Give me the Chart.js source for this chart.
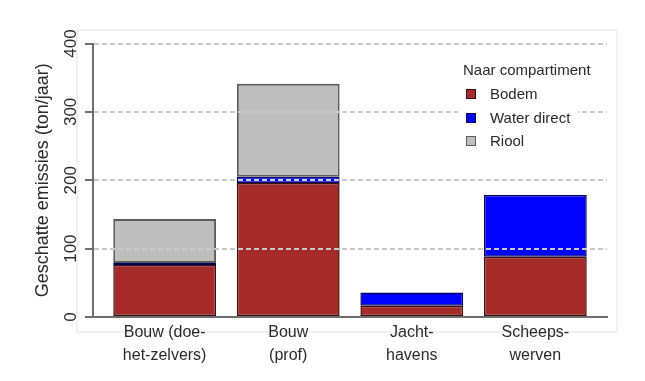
<!DOCTYPE html>
<html><head><meta charset="utf-8">
<script src="https://cdn.jsdelivr.net/npm/chart.js@4.4.1/dist/chart.umd.min.js"></script>
<style>html,body{margin:0;padding:0;background:#fff;} #wrap{width:645px;height:381px;}</style>
</head><body><div id="wrap"><canvas id="c" width="645" height="381"></canvas></div>
<script>
// ---- data ----
const categories = [['Bouw (doe-', 'het-zelvers)'], ['Bouw', '(prof)'], ['Jacht-', 'havens'], ['Scheeps-', 'werven']];
const seriesNames = ['Bodem', 'Water direct', 'Riool'];
const bodem = [76, 196, 16.5, 88];
const waterDirect = [3, 9, 19.5, 90.5];
const riool = [64.5, 136, 0, 0];
const yTicks = [0, 100, 200, 300, 400];
const legendTitle = 'Naar compartiment';
const yTitle = 'Geschatte emissies (ton/jaar)';

// ---- styles ----
const fills = ['#A52A2A', '#0000FF', '#BEBEBE'];
const outlines = ['#3a0e0e', '#00005a', '#5c5c5c'];
const axisColor = '#6e6e6e';
const textColor = '#2a2a2a';
const sans = "'Liberation Sans', Arial, sans-serif";

const series = [bodem, waterDirect, riool];
const datasets = series.map((vals, k) => ({
  label: seriesNames[k],
  data: vals.map((v, i) => ({ x: i, y: v })),
  backgroundColor: fills[k],
  borderColor: outlines[k],
  borderWidth: k === 2 ? 2 : 1.5,
  borderSkipped: false,
  categoryPercentage: 1,
  barPercentage: 0.832
}));

const framePlugin = {
  id: 'frame',
  beforeDraw(chart) {
    const { ctx, chartArea: a } = chart;
    ctx.save();
    ctx.strokeStyle = '#ececec';
    ctx.lineWidth = 1.5;
    ctx.strokeRect(a.left - 16, a.top - 13.5, (a.right + 10) - (a.left - 16), (a.bottom + 15) - (a.top - 13.5));
    ctx.restore();
  }
};

const legendPlugin = {
  id: 'innerLegend',
  afterDraw(chart) {
    const { ctx, chartArea: a } = chart;
    const x0 = a.right - 144;
    ctx.save();
    ctx.fillStyle = '#ffffff';
    ctx.fillRect(a.right - 149, a.top + 12, 120, 98);
    ctx.fillStyle = textColor;
    ctx.font = '15px ' + sans;
    ctx.textBaseline = 'middle';
    ctx.textAlign = 'left';
    ctx.fillText(legendTitle, x0, a.top + 27);
    const ys = [50.5, 74.5, 97.5];
    chart.data.datasets.forEach((ds, k) => {
      const cy = a.top + ys[k];
      ctx.fillStyle = ds.backgroundColor;
      ctx.fillRect(x0 + 3, cy - 5, 10, 10);
      ctx.strokeStyle = ds.borderColor;
      ctx.lineWidth = 1;
      ctx.strokeRect(x0 + 3.5, cy - 4.5, 9, 9);
      ctx.fillStyle = textColor;
      ctx.fillText(ds.label, x0 + 27, cy + 0.5);
    });
    ctx.restore();
  }
};

new Chart(document.getElementById('c'), {
  type: 'bar',
  data: { datasets },
  plugins: [framePlugin, legendPlugin],
  options: {
    responsive: false,
    animation: false,
    devicePixelRatio: 1,
    layout: { padding: { left: 20, right: 38, top: 43.5, bottom: 14 } },
    plugins: { legend: { display: false }, tooltip: { enabled: false } },
    scales: {
      x: {
        type: 'linear', stacked: true, min: -0.58, max: 3.58, offset: false,
        afterBuildTicks: s => { s.ticks = categories.map((_, i) => ({ value: i })); },
        afterFit: s => { s.height = 50; },
        ticks: {
          callback: v => categories[v],
          font: { family: sans, size: 16, lineHeight: 1.44 },
          color: textColor, padding: 4, maxRotation: 0, minRotation: 0, autoSkip: false
        },
        grid: { display: false, drawTicks: false, offset: false },
        border: { display: true, color: axisColor, width: 2, z: 2 }
      },
      y: {
        stacked: true, min: 0, max: 400,
        afterBuildTicks: s => { s.ticks = yTicks.map(v => ({ value: v })); },
        afterFit: s => { s.width = 73; },
        ticks: {
          font: { family: sans, size: 17 }, color: textColor,
          minRotation: 90, maxRotation: 90, crossAlign: 'center', padding: 0
        },
        grid: {
          z: 1,
          color: c => (c.tick && c.tick.value === 0) ? 'rgba(0,0,0,0)' : '#c9c9c9',
          lineWidth: 2,
          drawTicks: true, tickLength: 8, tickColor: axisColor, tickWidth: 2, tickBorderDash: []
        },
        border: { display: true, color: axisColor, width: 2, z: 2, dash: [5, 3] },
        title: {
          display: true, text: yTitle, color: textColor,
          font: { family: sans, size: 18 }, padding: { top: 12, bottom: 0 }
        }
      }
    }
  }
});
</script>
</body></html>
